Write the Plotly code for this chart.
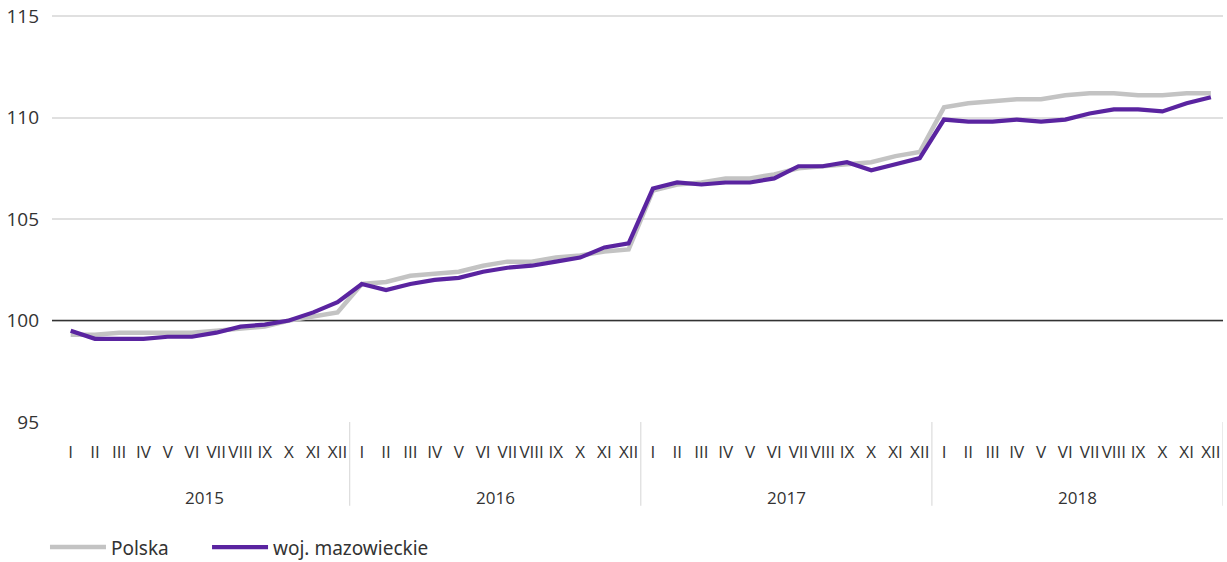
import plotly.graph_objects as go

years = ["2015", "2016", "2017", "2018"]
months = ["I", "II", "III", "IV", "V", "VI", "VII", "VIII", "IX", "X", "XI", "XII"]

polska = [
    99.3, 99.3, 99.4, 99.4, 99.4, 99.4, 99.5, 99.6, 99.7, 100.0, 100.2, 100.4,
    101.8, 101.9, 102.2, 102.3, 102.4, 102.7, 102.9, 102.9, 103.1, 103.2, 103.4, 103.5,
    106.4, 106.7, 106.8, 107.0, 107.0, 107.2, 107.5, 107.6, 107.7, 107.8, 108.1, 108.3,
    110.5, 110.7, 110.8, 110.9, 110.9, 111.1, 111.2, 111.2, 111.1, 111.1, 111.2, 111.2,
]
mazowieckie = [
    99.5, 99.1, 99.1, 99.1, 99.2, 99.2, 99.4, 99.7, 99.8, 100.0, 100.4, 100.9,
    101.8, 101.5, 101.8, 102.0, 102.1, 102.4, 102.6, 102.7, 102.9, 103.1, 103.6, 103.8,
    106.5, 106.8, 106.7, 106.8, 106.8, 107.0, 107.6, 107.6, 107.8, 107.4, 107.7, 108.0,
    109.9, 109.8, 109.8, 109.9, 109.8, 109.9, 110.2, 110.4, 110.4, 110.3, 110.7, 111.0,
]
yticks = [95, 100, 105, 110, 115]
baseline = 100

n = len(years) * len(months)
xs = list(range(n))
ticktext = [m for _ in years for m in months]
xrange = [-0.77, n - 0.5]
yrange = [yticks[0], yticks[-1] + 0.1]

fig = go.Figure()
# reference line at 100 (drawn as a trace so it sits above the gridline)
fig.add_trace(go.Scatter(x=xrange, y=[baseline, baseline], mode="lines",
                         line=dict(color="#333333", width=1.3),
                         showlegend=False, hoverinfo="skip"))
fig.add_trace(go.Scatter(x=xs, y=polska, mode="lines", name="Polska",
                         line=dict(color="#c3c3c3", width=4.5), legend="legend"))
fig.add_trace(go.Scatter(x=xs, y=mazowieckie, mode="lines", name="woj. mazowieckie",
                         line=dict(color="#5a24a0", width=4.2), legend="legend2"))

# year labels and dividers (after each year)
for i, yr in enumerate(years):
    fig.add_annotation(x=i * len(months) + (len(months) - 1) / 2, y=-0.185,
                       xref="x", yref="paper", text=yr, showarrow=False,
                       yanchor="middle",
                       font=dict(size=17, color="#333333", family="Open Sans"))
    xd = (i + 1) * len(months) - 0.5
    fig.add_shape(type="line", xref="x", yref="paper", x0=xd, x1=xd, y0=0, y1=-0.205,
                  line=dict(color="#dcdcdc", width=1.2))

legend_common = dict(orientation="h", xanchor="left", y=-0.307, yanchor="middle",
                     font=dict(size=19, family="Noto Sans", color="#333333"),
                     itemwidth=56, bgcolor="rgba(0,0,0,0)")

fig.update_layout(
    width=1227, height=562,
    margin=dict(l=52, r=4, t=14, b=140, autoexpand=False),
    paper_bgcolor="white", plot_bgcolor="white",
    font=dict(family="Open Sans", color="#333333"),
    showlegend=True,
    legend=dict(x=-0.006, **legend_common),
    legend2=dict(x=0.1324, **legend_common),
    xaxis=dict(range=xrange, tickmode="array", tickvals=xs, ticktext=ticktext,
               showgrid=False, zeroline=False, showline=False, ticks="",
               tickfont=dict(size=17, family="Open Sans", color="#333333"),
               ticklabelstandoff=18, fixedrange=True, automargin=False,
               ticklabeloverflow="allow"),
    yaxis=dict(range=yrange, tickvals=yticks, showgrid=True, gridcolor="#e0e0e0",
               gridwidth=1.5, zeroline=False, showline=False, ticks="",
               tickfont=dict(size=19, family="Open Sans", color="#333333"),
               ticklabelstandoff=12, automargin=False, ticklabeloverflow="allow"),
)

fig.write_html("out.html", config={"displayModeBar": False},
               post_script="document.body.style.margin='0px';")
